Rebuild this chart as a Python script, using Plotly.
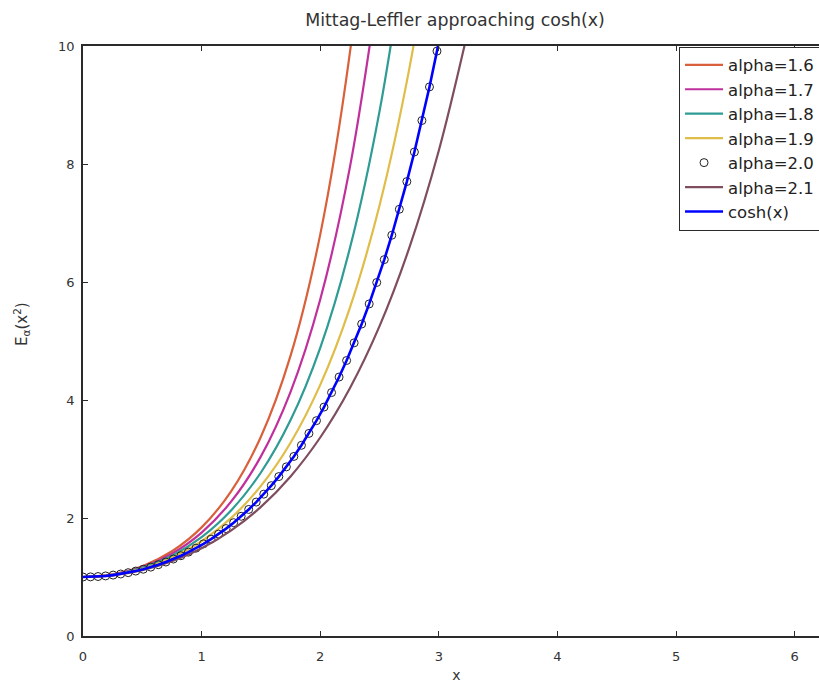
import plotly.graph_objects as go

# ---- data ----
x_coarse = [0, 0.25, 0.5, 0.75, 1.0, 1.25, 1.5, 1.75, 2.0, 2.25, 2.5, 2.75, 3.0, 3.25]

alpha_16 = [1, 1.04424, 1.18311, 1.43640, 1.84075, 2.45635, 3.37768, 4.75113, 6.80275, 9.88240, 14.53374]
alpha_17 = [1, 1.04085, 1.16812, 1.39665, 1.75336, 2.28101, 3.04412, 4.13798, 5.70244, 7.94218, 11.15691]
alpha_18 = [1, 1.03757, 1.15386, 1.35992, 1.67551, 2.13112, 2.77128, 3.65933, 4.88426, 6.57051, 8.89165, 12.08981]
alpha_19 = [1, 1.03442, 1.14035, 1.32600, 1.60578, 2.00151, 2.54418, 3.27651, 4.25648, 5.56210, 7.29790, 9.60370, 12.66627]
alpha_21 = [1, 1.02856, 1.11569, 1.26581, 1.48653, 1.78900, 2.18847, 2.70498, 3.36438, 4.19951, 5.25180, 6.57321, 8.22873, 10.29938]

x_fine = [0, 0.0635, 0.127, 0.1905, 0.254, 0.3175, 0.381, 0.4445, 0.508, 0.5715,
          0.635, 0.6985, 0.762, 0.8255, 0.889, 0.9525, 1.016, 1.0795, 1.143, 1.2065,
          1.27, 1.3335, 1.397, 1.4605, 1.524, 1.5875, 1.651, 1.7145, 1.778, 1.8415,
          1.905, 1.9685, 2.032, 2.0955, 2.159, 2.2225, 2.286, 2.3495, 2.413, 2.4765,
          2.54, 2.6035, 2.667, 2.7305, 2.794, 2.8575, 2.921, 2.9845, 3.048]

alpha_20 = [1.0, 1.00202, 1.00808, 1.0182, 1.03243, 1.05083, 1.07346, 1.10043, 1.13183, 1.1678,
            1.20848, 1.25403, 1.30464, 1.36052, 1.42188, 1.48898, 1.56208, 1.64148, 1.72751, 1.8205,
            1.92084, 2.02892, 2.14518, 2.2701, 2.40416, 2.54792, 2.70196, 2.86689, 3.04338, 3.23214,
            3.43395, 3.6496, 3.8802, 4.12626, 4.38896, 4.66937, 4.9686, 5.28786, 5.62846, 5.99174,
            6.37928, 6.79247, 7.23306, 7.70262, 8.20343, 8.73733, 9.30641, 9.91349, 10.5603]
cosh_vals = alpha_20

x_ticks = [0, 1, 2, 3, 4, 5, 6]
y_ticks = [0, 2, 4, 6, 8, 10]

line_series = [
    ("alpha=1.6", alpha_16, "#D9603B"),
    ("alpha=1.7", alpha_17, "#C0309C"),
    ("alpha=1.8", alpha_18, "#2E9B94"),
    ("alpha=1.9", alpha_19, "#E0BC48"),
]

fig = go.Figure()
for name, ys, col in line_series:
    fig.add_trace(go.Scatter(x=x_coarse[:len(ys)], y=ys, mode="lines", name=name,
                             line=dict(color=col, width=2.2, shape="spline")))
fig.add_trace(go.Scatter(x=x_fine, y=alpha_20, mode="markers", name="alpha=2.0",
                         marker=dict(symbol="circle-open", size=8, color="#222222",
                                     line=dict(width=1, color="#222222"))))
fig.add_trace(go.Scatter(x=x_coarse[:len(alpha_21)], y=alpha_21, mode="lines", name="alpha=2.1",
                         line=dict(color="#7E4E5E", width=2.2, shape="spline")))
fig.add_trace(go.Scatter(x=x_fine, y=cosh_vals, mode="lines", name="cosh(x)",
                         line=dict(color="#0000FF", width=2.6)))

axis_common = dict(showgrid=False, zeroline=False, showline=True, linecolor="#2a2a2a",
                   linewidth=1.8, ticks="inside", ticklen=5, tickcolor="#2a2a2a",
                   tickfont=dict(family="DejaVu Sans", size=13, color="#333333"),
                   mirror="ticks")

# the axes run on past the right edge of the window, as in the (cropped) reference
fig.update_layout(
    width=830, height=685,
    margin=dict(l=83, r=0, t=46, b=49, autoexpand=False),
    paper_bgcolor="white", plot_bgcolor="white",
    font=dict(family="DejaVu Sans", color="#333333"),
    title=dict(text="Mittag-Leffler approaching cosh(x)", x=0.5482, xanchor="center",
               y=0.9708, yanchor="middle", yref="container", xref="container",
               font=dict(family="DejaVu Sans", size=17.4, color="#333333")),
    xaxis=dict(range=[0, 6.298], tickvals=x_ticks, ticklabelstandoff=7,
               title=dict(text="x", standoff=8, font=dict(size=14)), **axis_common),
    yaxis=dict(range=[0, 10], tickvals=y_ticks, ticklabelstandoff=4, **axis_common),
    legend=dict(x=0.7979, y=0.999, xanchor="left", yanchor="top",
                bgcolor="white", bordercolor="#2a2a2a", borderwidth=1,
                font=dict(family="DejaVu Sans", size=16.5, color="#222222"),
                tracegroupgap=0, itemwidth=38),
    showlegend=True,
)

fig.add_annotation(text="E<sub>α</sub>(x<sup>2</sup>)", textangle=-90,
                   xref="paper", yref="paper", x=-0.083, y=0.5288,
                   xanchor="center", yanchor="middle", showarrow=False,
                   font=dict(family="DejaVu Sans", size=15, color="#333333"))

fig.write_html("out.html",
               config={"displayModeBar": False},
               post_script="document.body.style.margin='0';"
                           "document.body.style.overflow='hidden';"
                           "document.documentElement.style.overflow='hidden';")
